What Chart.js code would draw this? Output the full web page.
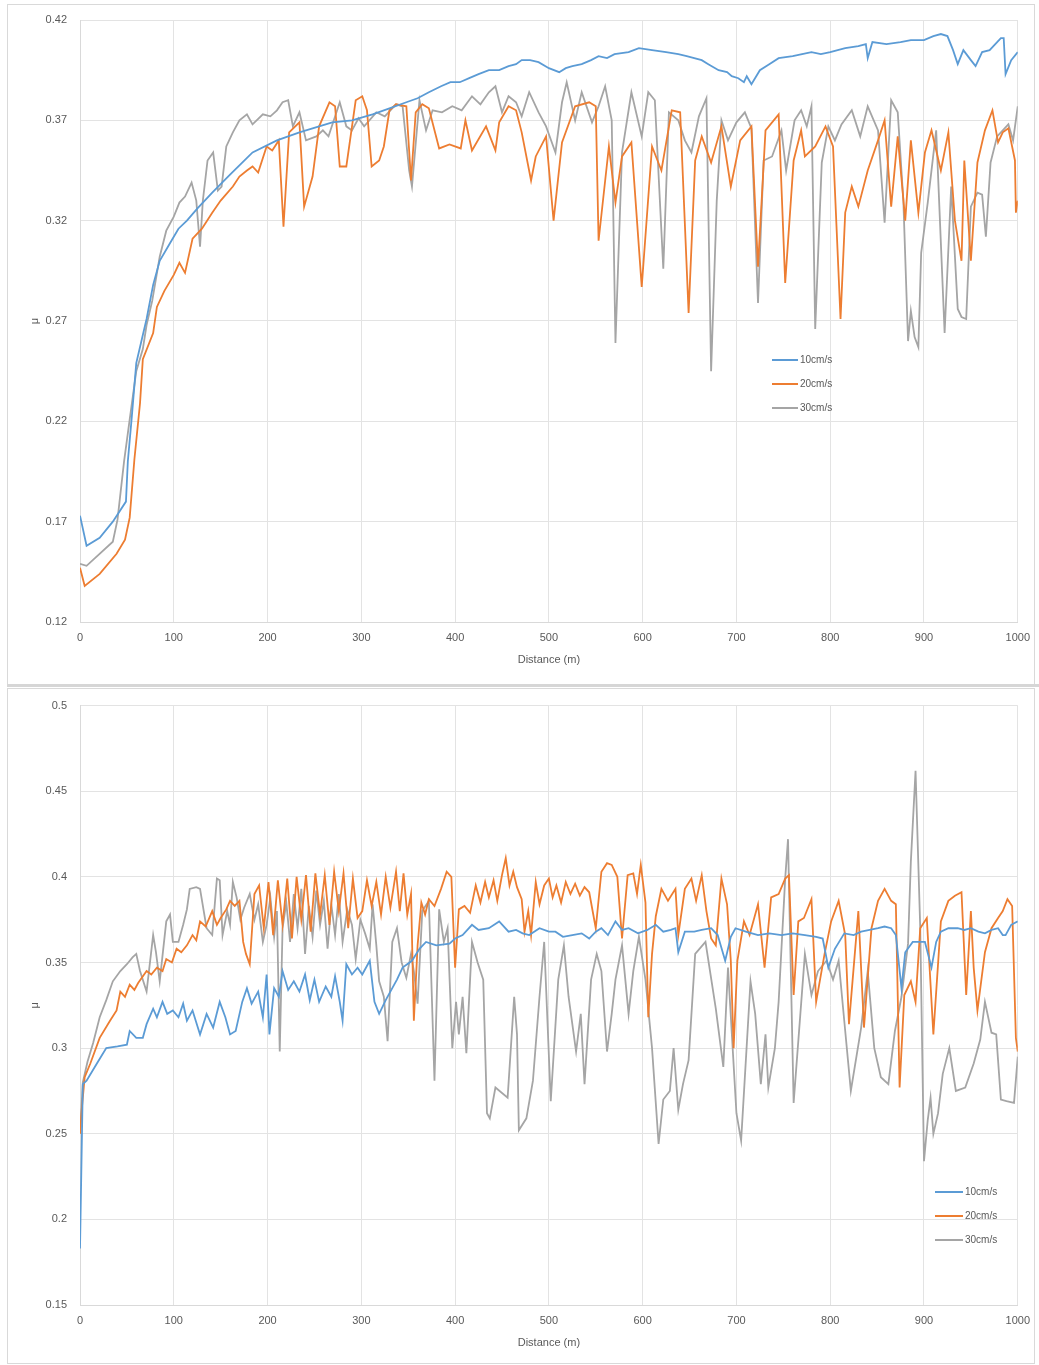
<!DOCTYPE html>
<html lang="en">
<head>
<meta charset="UTF-8">
<title>Friction coefficient vs distance</title>
<script src="https://cdn.jsdelivr.net/npm/chart.js"></script>
<style>
    body { margin: 0; background: #fff; }
    #page { position: relative; width: 1039px; height: 1365px; overflow: hidden; }
    .box { position: absolute; left: 7px; width: 1028px; border: 1px solid #d9d9d9; box-sizing: border-box; }
    #boxTop { top: 4px; height: 682px; }
    #boxBottom { top: 688px; height: 676px; }
    #sep { position: absolute; left: 7px; top: 684px; width: 1032px; height: 3px; background: #d6d6d6; }
    canvas { position: absolute; left: 0; }
    #chartTop { top: 0; }
    #chartBottom { top: 686px; }
</style>
</head>
<body>
<div id="page">
    <div class="box" id="boxTop"></div>
    <div class="box" id="boxBottom"></div>
    <div id="sep"></div>
    <canvas id="chartTop" width="1039" height="686"></canvas>
    <canvas id="chartBottom" width="1039" height="679"></canvas>
</div>

<script>
    // ---- data: [distance (m), mu] ----
    const seriesLabels = ['10cm/s', '20cm/s', '30cm/s'];
    const xTicks = [0, 100, 200, 300, 400, 500, 600, 700, 800, 900, 1000];
    const xLabels = ['0', '100', '200', '300', '400', '500', '600', '700', '800', '900', '1000'];
    const topYTicks = [0.12, 0.17, 0.22, 0.27, 0.32, 0.37, 0.42];
    const topYLabels = ['0.12', '0.17', '0.22', '0.27', '0.32', '0.37', '0.42'];
    const bottomYTicks = [0.15, 0.2, 0.25, 0.3, 0.35, 0.4, 0.45, 0.5];
    const bottomYLabels = ['0.15', '0.2', '0.25', '0.3', '0.35', '0.4', '0.45', '0.5'];

    // first test
    const top10 = [[0,.173],[7,.158],[21,.162],[35,.170],[49,.180],[51,.200],[55,.221],[60,.249],[66,.261],[71,.271],[78,.288],[85,.300],
        [95,.308],[105,.316],[114,.320],[125,.326],[141,.334],[160,.343],[184,.354],[210,.360],[234,.364],[255,.367],[269,.369],[290,.370],
        [312,.373],[330,.376],[348,.379],[360,.381],[372,.384],[385,.387],[395,.389],[405,.389],[415,.391],[425,.393],[436,.395],[447,.395],
        [457,.397],[465,.398],[471,.400],[480,.400],[489,.399],[500,.396],[511,.394],[518,.396],[525,.397],[535,.398],[545,.400],[553,.402],
        [562,.401],[570,.403],[585,.404],[596,.406],[610,.405],[625,.404],[638,.403],[647,.402],[655,.401],[663,.400],[670,.398],[681,.395],
        [690,.394],[695,.392],[702,.391],[708,.389],[711,.392],[716,.388],[725,.395],[735,.398],[745,.401],[760,.402],[770,.403],[780,.404],
        [790,.403],[800,.404],[816,.406],[830,.407],[838,.408],[840,.401],[845,.409],[860,.408],[875,.409],[886,.410],[900,.410],[910,.412],
        [918,.413],[925,.412],[931,.405],[936,.398],[942,.405],[950,.400],[955,.397],[962,.404],[970,.405],[982,.411],[985,.411],[987,.393],
        [993,.400],[1000,.404]];

    const top20 = [[0,.147],[5,.138],[21,.144],[39,.154],[48,.161],[53,.172],[58,.201],[64,.229],[67,.251],[78,.264],[82,.277],[90,.285],
        [100,.293],[106,.299],[112,.294],[120,.311],[130,.316],[141,.324],[150,.330],[163,.337],[170,.342],[178,.345],[184,.347],[190,.344],
        [199,.357],[205,.355],[212,.360],[217,.317],[223,.364],[234,.369],[239,.327],[248,.342],[255,.367],[266,.379],[272,.377],[277,.347],
        [284,.347],[294,.380],[301,.382],[306,.375],[311,.347],[319,.350],[324,.357],[330,.375],[337,.378],[348,.377],[353,.340],[358,.374],
        [365,.378],[372,.376],[383,.356],[394,.358],[406,.356],[411,.370],[418,.355],[433,.367],[443,.355],[447,.369],[457,.377],[465,.375],
        [471,.364],[481,.340],[486,.352],[497,.362],[505,.320],[514,.359],[528,.377],[543,.379],[550,.377],[553,.310],[564,.357],[571,.329],
        [578,.352],[588,.359],[599,.287],[610,.357],[620,.345],[631,.375],[640,.374],[649,.274],[656,.350],[663,.362],[673,.349],[684,.367],
        [694,.337],[704,.360],[716,.367],[723,.297],[731,.365],[745,.373],[752,.289],[761,.350],[769,.365],[773,.352],[784,.357],[795,.367],
        [803,.357],[811,.271],[816,.324],[823,.337],[830,.327],[840,.345],[851,.360],[858,.370],[865,.327],[872,.362],[880,.320],[886,.360],
        [894,.324],[901,.354],[908,.365],[918,.345],[926,.364],[933,.320],[940,.300],[943,.350],[950,.300],[957,.349],[965,.365],[973,.375],
        [979,.359],[984,.364],[990,.366],[997,.350],[998,.324],[1000,.330]];

    const top30 = [[0,.149],[7,.148],[35,.160],[40,.171],[47,.200],[53,.221],[60,.245],[67,.256],[71,.268],[77,.280],[85,.302],[92,.315],
        [100,.322],[106,.329],[112,.332],[119,.339],[124,.330],[128,.307],[131,.330],[136,.350],[142,.354],[147,.335],[151,.337],[156,.357],
        [163,.364],[170,.370],[178,.373],[184,.368],[195,.373],[203,.372],[210,.375],[216,.379],[222,.380],[227,.367],[234,.374],[241,.360],
        [252,.362],[259,.365],[265,.362],[277,.379],[284,.367],[290,.365],[297,.371],[303,.367],[316,.374],[325,.372],[337,.378],[344,.377],
        [351,.345],[354,.337],[362,.380],[369,.365],[376,.375],[386,.374],[397,.377],[407,.375],[418,.382],[427,.378],[436,.384],[443,.387],
        [450,.374],[457,.382],[465,.379],[471,.372],[479,.384],[489,.374],[497,.367],[507,.354],[514,.379],[519,.389],[528,.370],[535,.384],
        [546,.369],[553,.377],[560,.387],[567,.370],[571,.259],[578,.354],[588,.384],[599,.362],[606,.384],[613,.380],[622,.296],[628,.374],
        [638,.370],[645,.360],[652,.354],[660,.372],[668,.381],[673,.245],[679,.330],[684,.370],[691,.360],[700,.369],[709,.374],[716,.366],
        [723,.279],[729,.350],[738,.352],[748,.365],[753,.345],[762,.370],[769,.375],[775,.367],[780,.377],[784,.266],[791,.349],[798,.367],
        [805,.360],[812,.368],[823,.375],[832,.362],[840,.377],[851,.365],[858,.319],[865,.380],[872,.374],[878,.330],[883,.260],[886,.275],
        [890,.262],[894,.257],[897,.304],[904,.329],[913,.365],[922,.264],[929,.337],[936,.276],[940,.272],[945,.271],[950,.327],[957,.334],
        [962,.333],[966,.312],[971,.349],[978,.362],[984,.365],[990,.368],[995,.360],[1000,.377]];

    // second test
    const bottom10 = [[0,.183],[3,.279],[7,.281],[18,.291],[28,.300],[40,.301],[50,.302],[53,.310],[60,.306],[67,.306],[71,.314],[78,.323],
        [82,.318],[88,.327],[93,.320],[99,.322],[105,.318],[110,.326],[114,.316],[120,.322],[128,.308],[135,.320],[142,.312],[149,.327],
        [155,.318],[160,.308],[166,.310],[173,.327],[178,.335],[183,.326],[190,.333],[195,.318],[199,.343],[202,.308],[207,.335],[212,.330],
        [216,.345],[222,.334],[228,.339],[234,.333],[240,.343],[245,.328],[250,.340],[255,.327],[262,.336],[268,.330],[272,.342],[277,.327],
        [280,.316],[284,.349],[290,.343],[296,.347],[301,.343],[309,.351],[314,.327],[319,.320],[326,.328],[333,.335],[338,.340],[344,.347],
        [354,.351],[362,.358],[369,.362],[380,.360],[394,.361],[400,.364],[408,.366],[418,.372],[425,.369],[436,.370],[447,.374],[457,.368],
        [465,.369],[472,.367],[479,.366],[490,.370],[500,.368],[507,.368],[515,.365],[525,.366],[535,.367],[543,.364],[550,.368],[556,.370],
        [563,.366],[571,.374],[578,.369],[585,.370],[595,.367],[605,.369],[614,.372],[622,.368],[630,.369],[635,.370],[638,.356],[645,.368],
        [655,.368],[663,.369],[673,.370],[680,.366],[688,.351],[694,.365],[699,.370],[710,.368],[723,.366],[735,.367],[748,.366],[760,.367],
        [773,.366],[785,.365],[792,.364],[798,.347],[805,.358],[815,.367],[825,.366],[833,.368],[842,.369],[851,.370],[858,.371],[865,.370],
        [870,.366],[876,.335],[880,.356],[888,.362],[896,.362],[901,.362],[908,.347],[913,.362],[918,.368],[926,.370],[936,.370],[943,.369],
        [950,.370],[958,.368],[965,.367],[972,.369],[979,.370],[984,.366],[987,.366],[993,.372],[1000,.374]];

    const bottom20 = [[0,.250],[2,.265],[5,.283],[11,.291],[21,.306],[32,.316],[39,.322],[43,.333],[48,.330],[53,.337],[58,.334],[62,.338],
        [71,.345],[76,.343],[82,.347],[88,.345],[92,.352],[98,.350],[103,.358],[108,.356],[114,.360],[120,.366],[124,.363],[128,.374],
        [134,.371],[141,.380],[146,.372],[150,.376],[156,.381],[160,.386],[165,.383],[170,.386],[174,.362],[177,.355],[181,.349],[186,.390],
        [191,.395],[196,.370],[201,.397],[206,.366],[211,.398],[216,.372],[221,.399],[226,.364],[231,.400],[236,.375],[241,.401],[246,.368],
        [251,.402],[256,.378],[261,.401],[266,.372],[271,.403],[276,.380],[281,.402],[286,.370],[291,.399],[296,.376],[301,.380],[306,.398],
        [311,.383],[316,.397],[321,.378],[326,.400],[331,.382],[337,.403],[341,.380],[345,.402],[349,.378],[353,.390],[356,.316],[360,.360],
        [364,.385],[368,.378],[372,.387],[378,.383],[385,.393],[391,.403],[396,.400],[400,.347],[404,.381],[410,.383],[416,.379],[422,.395],
        [427,.385],[432,.397],[436,.388],[441,.398],[445,.386],[450,.401],[454,.411],[458,.395],[462,.403],[466,.394],[471,.387],[474,.368],
        [478,.380],[481,.366],[486,.397],[490,.384],[495,.395],[500,.399],[504,.388],[508,.395],[513,.385],[518,.397],[523,.390],[528,.396],
        [533,.389],[538,.394],[543,.391],[550,.370],[556,.403],[562,.408],[567,.407],[573,.400],[578,.364],[584,.401],[590,.402],[594,.390],
        [598,.407],[603,.385],[606,.318],[610,.355],[614,.377],[620,.393],[627,.386],[635,.393],[638,.366],[645,.393],[652,.399],[657,.386],
        [663,.401],[668,.380],[673,.364],[678,.360],[684,.399],[690,.384],[694,.351],[697,.300],[701,.351],[708,.374],[714,.366],[723,.384],
        [730,.347],[737,.388],[745,.390],[752,.399],[756,.401],[761,.331],[766,.374],[772,.376],[780,.387],[785,.327],[794,.355],[801,.374],
        [809,.386],[816,.366],[820,.314],[830,.380],[836,.312],[844,.370],[851,.386],[858,.393],[865,.386],[870,.384],[874,.277],[879,.331],
        [886,.339],[891,.327],[896,.370],[903,.376],[910,.308],[918,.374],[926,.386],[933,.389],[940,.391],[945,.331],[950,.380],[953,.347],
        [957,.322],[965,.356],[972,.370],[979,.376],[984,.380],[989,.387],[994,.383],[998,.306],[1000,.298]];

    const bottom30 = [[0,.250],[3,.280],[8,.292],[14,.303],[21,.318],[28,.328],[35,.339],[43,.345],[50,.349],[56,.353],[60,.355],[64,.345],
        [71,.333],[78,.366],[81,.356],[85,.339],[92,.374],[96,.378],[99,.362],[105,.362],[110,.372],[114,.381],[117,.393],[124,.394],
        [128,.393],[135,.370],[141,.366],[146,.399],[149,.398],[152,.366],[157,.380],[160,.372],[163,.397],[167,.388],[171,.375],[175,.382],
        [181,.390],[186,.375],[190,.384],[195,.362],[199,.372],[203,.388],[207,.365],[210,.380],[213,.298],[216,.370],[220,.385],[224,.362],
        [228,.390],[232,.370],[236,.393],[240,.355],[244,.383],[248,.365],[252,.392],[256,.372],[260,.386],[264,.358],[268,.384],[272,.366],
        [276,.390],[280,.362],[285,.381],[290,.372],[294,.352],[299,.375],[304,.367],[309,.358],[312,.384],[316,.360],[319,.339],[324,.330],
        [328,.304],[333,.362],[338,.370],[343,.350],[348,.341],[353,.355],[356,.345],[360,.326],[365,.380],[372,.386],[378,.281],[383,.381],
        [388,.362],[392,.370],[397,.300],[401,.327],[404,.308],[408,.330],[412,.297],[418,.362],[424,.350],[430,.340],[434,.262],[437,.259],
        [443,.277],[456,.271],[463,.330],[466,.308],[468,.252],[476,.259],[483,.281],[490,.330],[495,.362],[502,.269],[510,.340],[516,.360],
        [521,.330],[529,.298],[534,.320],[538,.279],[545,.340],[551,.355],[556,.345],[562,.298],[567,.320],[571,.340],[578,.360],[585,.320],
        [590,.345],[596,.365],[603,.340],[610,.300],[617,.244],[622,.270],[629,.275],[633,.300],[638,.264],[643,.279],[649,.293],[656,.355],
        [667,.362],[678,.323],[686,.289],[691,.347],[700,.262],[705,.246],[715,.339],[720,.320],[726,.279],[731,.308],[734,.277],[741,.300],
        [745,.327],[752,.399],[755,.422],[761,.268],[773,.355],[780,.331],[787,.345],[796,.351],[803,.340],[809,.351],[816,.310],[822,.275],
        [833,.312],[840,.345],[847,.300],[854,.283],[862,.279],[869,.310],[876,.330],[883,.361],[886,.409],[891,.462],[896,.370],[900,.234],
        [904,.258],[907,.271],[910,.250],[915,.262],[920,.285],[927,.300],[934,.275],[944,.277],[953,.291],[960,.305],[965,.327],[972,.309],
        [977,.308],[982,.270],[988,.269],[996,.268],[1000,.295]];

    const seriesColors = ['#5b9bd5', '#ed7d31', '#a5a5a5'];

    // small legend drawn inside the plot area, like the spreadsheet one
    const inlineLegend = {
        id: 'inlineLegend',
        afterDraw(chart, args, opts) {
            const ctx = chart.ctx;
            ctx.save();
            ctx.font = '10px "Liberation Sans", Arial, sans-serif';
            ctx.textBaseline = 'middle';
            chart.data.datasets.forEach((ds, i) => {
                const y = opts.y + i * opts.gap;
                ctx.strokeStyle = ds.borderColor;
                ctx.lineWidth = 2;
                ctx.beginPath();
                ctx.moveTo(opts.x, y);
                ctx.lineTo(opts.x + opts.lineLen, y);
                ctx.stroke();
                ctx.fillStyle = '#595959';
                ctx.fillText(ds.label, opts.x + opts.lineLen + 2, y);
            });
            ctx.restore();
        }
    };

    function toPoints(rows) {
        return rows.map(r => ({ x: r[0], y: r[1] }));
    }

    function buildDatasets(list) {
        return list.map((rows, i) => ({
            label: seriesLabels[i],
            data: toPoints(rows),
            borderColor: seriesColors[i],
            backgroundColor: seriesColors[i],
            borderWidth: 1.8,
            pointRadius: 0,
            showLine: true,
            tension: 0
        }));
    }

    function drawChart(canvasId, datasets, cfg) {
        const tickFont = { family: '"Liberation Sans", Arial, sans-serif', size: 11 };
        return new Chart(document.getElementById(canvasId), {
            type: 'scatter',
            data: { datasets: datasets },
            plugins: [inlineLegend],
            options: {
                responsive: false,
                animation: false,
                layout: { padding: { left: 0, right: 16, top: cfg.padTop, bottom: 0 } },
                plugins: {
                    legend: { display: false },
                    tooltip: { enabled: false },
                    inlineLegend: cfg.legend
                },
                scales: {
                    x: {
                        type: 'linear',
                        min: 0,
                        max: 1000,
                        afterFit: s => { s.height = cfg.xHeight; },
                        afterBuildTicks: axis => { axis.ticks = xTicks.map(v => ({ value: v })); },
                        grid: { color: '#e3e3e3', drawTicks: false },
                        border: { color: '#d9d9d9' },
                        ticks: {
                            color: '#595959',
                            font: tickFont,
                            padding: 9,
                            maxRotation: 0,
                            callback: v => xLabels[xTicks.indexOf(v)]
                        },
                        title: {
                            display: true,
                            text: 'Distance (m)',
                            color: '#595959',
                            font: tickFont,
                            padding: { top: 0, bottom: cfg.xTitlePad }
                        }
                    },
                    y: {
                        min: cfg.yTicks[0],
                        max: cfg.yTicks[cfg.yTicks.length - 1],
                        afterFit: s => { s.width = 80; },
                        afterBuildTicks: axis => { axis.ticks = cfg.yTicks.map(v => ({ value: v })); },
                        grid: { color: '#e3e3e3', drawTicks: false },
                        border: { color: '#d9d9d9' },
                        ticks: {
                            color: '#595959',
                            font: tickFont,
                            padding: 13,
                            callback: v => cfg.yLabels[cfg.yTicks.indexOf(v)]
                        },
                        title: {
                            display: true,
                            text: 'μ',
                            color: '#595959',
                            font: tickFont,
                            padding: { top: 28, bottom: 0 }
                        }
                    }
                }
            }
        });
    }

    drawChart('chartTop', buildDatasets([top10, top20, top30]), {
        padTop: 20,
        xHeight: 64,
        xTitlePad: 19,
        yTicks: topYTicks,
        yLabels: topYLabels,
        legend: { x: 772, y: 360, gap: 24, lineLen: 26 }
    });

    drawChart('chartBottom', buildDatasets([bottom10, bottom20, bottom30]), {
        padTop: 17,
        xHeight: 60,
        xTitlePad: 15,
        yTicks: bottomYTicks,
        yLabels: bottomYLabels,
        legend: { x: 935, y: 506, gap: 24, lineLen: 28 }
    });
</script>
</body>
</html>
